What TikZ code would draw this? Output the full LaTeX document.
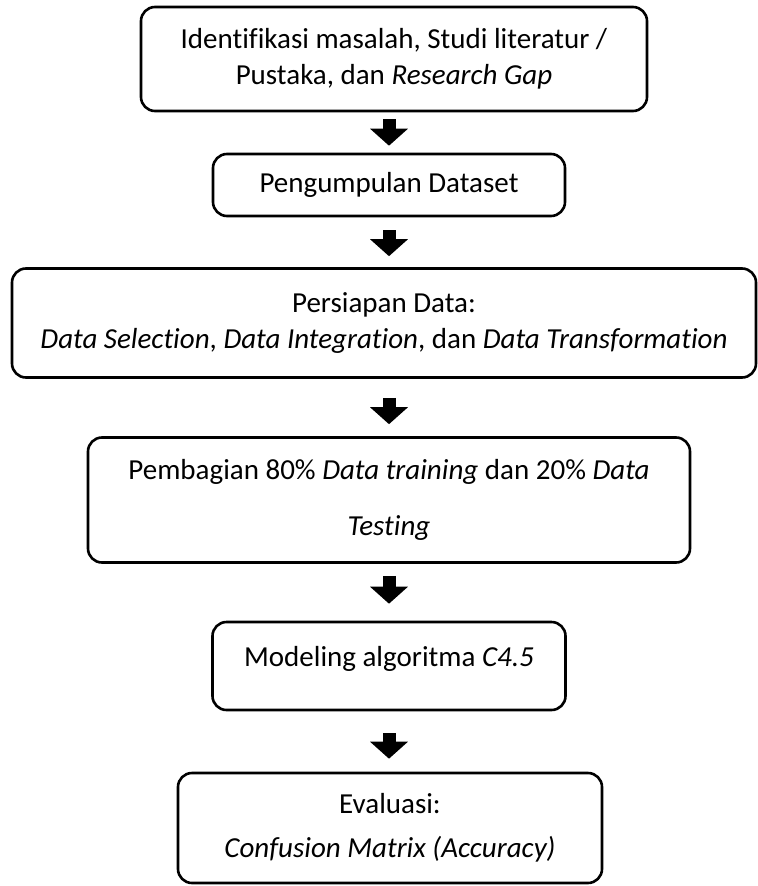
\documentclass[tikz,border=0pt]{standalone}
\usepackage{fontspec}
\setmainfont{Carlito}[Ligatures={TeX,NoCommon}]
\usetikzlibrary{arrows.meta, positioning}

\tikzset{
    procbox/.style={draw, line width=2.6bp, rounded corners=14bp, align=center,
        inner sep=0pt, font=\fontsize{29bp}{36bp}\selectfont},
    flowarrow/.style={line width=13bp, -{Triangle[width=37bp, length=17bp]},
        shorten <=7bp, shorten >=7bp}
}

\begin{document}
\begin{tikzpicture}[x=1bp, y=-1bp]
        \useasboundingbox (0,0) rectangle (758,886);

        \node[procbox, minimum width=506bp, minimum height=104bp] (ident) at (394,59)
            {Identifikasi masalah, Studi literatur /\\Pustaka, dan \textit{Research Gap}};
        \node[procbox, minimum width=352bp, minimum height=62bp] (kumpul) at (389,185)
            {Pengumpulan Dataset};
        \node[procbox, minimum width=744bp, minimum height=109bp] (siap) at (384,323)
            {Persiapan Data:\\\textit{Data Selection}, \textit{Data Integration}, dan \textit{Data Transformation}};
        \node[procbox, minimum width=602bp, minimum height=125bp] (bagi) at (389,500)
            {Pembagian 80\% \textit{Data training} dan 20\% \textit{Data}\\[20bp]\textit{Testing}};
        \node[procbox, minimum width=353bp, minimum height=88bp] (model) at (389,666)
            {\raisebox{7bp}[\height][\depth]{Modeling algoritma \textit{C4.5}}};
        \node[procbox, minimum width=424bp, minimum height=110bp] (eval) at (390,828)
            {Evaluasi:\\[8bp]\textit{Confusion Matrix (Accuracy)}};

        \draw[flowarrow] (ident.south -| kumpul.north) -- (kumpul.north);
        \draw[flowarrow, shorten <=13bp, shorten >=11bp] (kumpul.south) -- (kumpul.south |- siap.north);
        \draw[flowarrow, shorten <=19bp, shorten >=12bp] (siap.south -| bagi.north) -- (bagi.north);
        \draw[flowarrow, shorten <=12bp, shorten >=17bp] (bagi.south) -- (model.north);
        \draw[flowarrow, shorten <=22bp, shorten >=13bp] (model.south) -- (model.south |- eval.north);

\end{tikzpicture}
\end{document}
